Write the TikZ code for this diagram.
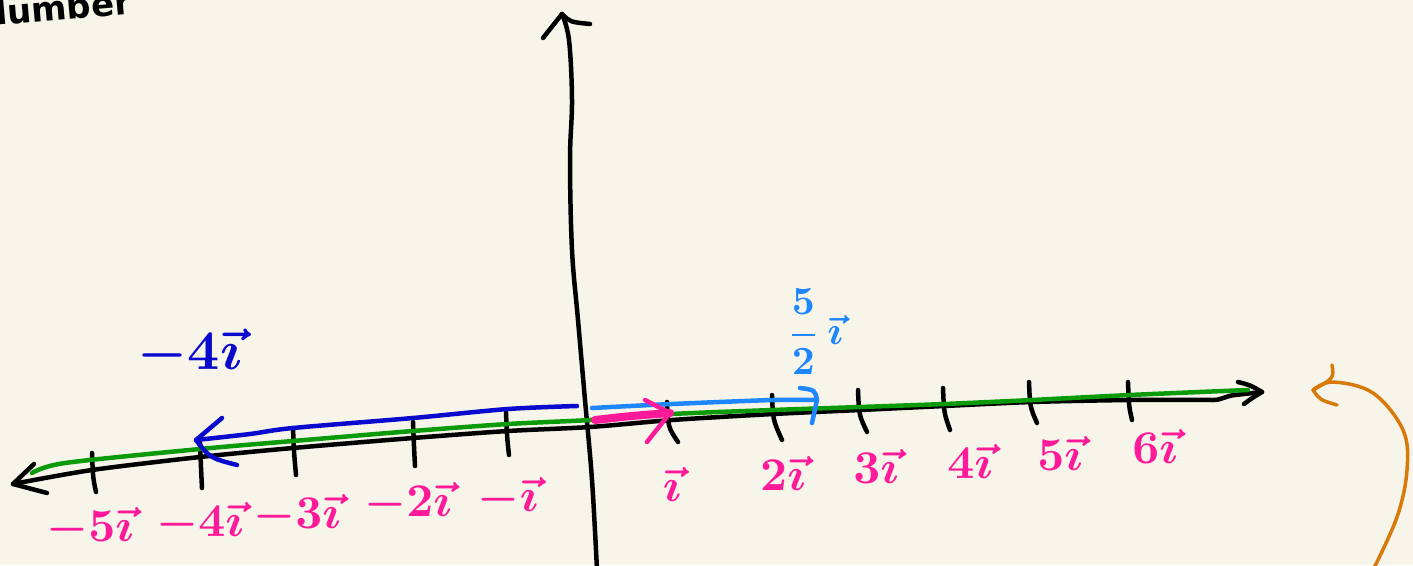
\documentclass[tikz,border=0pt]{standalone}
\usepackage{amsmath}
\usepackage{fontspec}
\newfontfamily\handfont{DejaVu Sans}
\definecolor{bgc}{HTML}{F7F5E9}
\definecolor{pinkc}{HTML}{FF1A9A}
\definecolor{lbluec}{HTML}{1E86FF}
\definecolor{dbluec}{HTML}{0A0ACF}
\definecolor{greenc}{HTML}{0A9A0A}
\definecolor{orangec}{HTML}{D87A0A}
\tikzset{
  pen/.style={line width=4.5pt, line cap=round, line join=round},
  axis/.style={pen, black},
  tickmark/.style={pen, black},
  plabel/.style={text=pinkc, scale=4.7, inner sep=0pt, font=\boldmath},
}
\begin{document}
\begin{tikzpicture}[x=1pt,y=-1pt]
\fill[bgc] (0,0) rectangle (1413,565);
\useasboundingbox (0,0) rectangle (1413,565);
\clip (0,0) rectangle (1413,565);

% cut-off title
\node[anchor=base west, inner sep=0pt, font=\handfont\bfseries\fontsize{34}{40}\selectfont, rotate=5] (title) at (-20,27) {Number};

% vertical axis
\coordinate (vtop) at (562,14);
\coordinate (vbot) at (597,570);
\draw[axis] plot[smooth, tension=0.6] coordinates {(vtop) (569,40) (572,100) (570,160) (572,250) (578,320) (585,400) (592,480) (vbot)};
\draw[axis] (543,38) -- (vtop) .. controls (570,22) .. (590,24);

% horizontal axis
\coordinate (hl) at (13,484);
\coordinate (hr) at (1262,392);
\draw[axis] plot[smooth, tension=0.5] coordinates {(hl) (92,470) (200,457) (293,448) (413,438) (508,431) (590,427) (672,420) (773,414) (860,410) (944,406) (1032,402) (1130,400) (1213,400)} .. controls (1222,400) and (1225,396) .. (1235,395) -- (hr);
\draw[axis] (34,464) -- (hl) -- (47,493);
\draw[axis] (1238,382) .. controls (1250,385) .. (hr) .. controls (1252,398) .. (1244,404);

% ticks
\foreach \x/\a/\b/\c in {92/453/96/492, 200/443/202/488, 293/428/296/475, 413/422/415/466, 506/412/509/455, 667/402/678/442, 772/395/782/440, 858/390/867/432, 943/388/950/430, 1029/382/1037/423, 1128/382/1132/420}
  \draw[tickmark] (\x,\a) .. controls (\x+1,\a+25) .. (\b,\c);

% green line
\coordinate (gl) at (32,473);
\coordinate (gr) at (1248,390);
\draw[pen, greenc] plot[smooth, tension=0.5] coordinates {(gl) (65,463) (200,449) (293,441) (413,431) (508,424) (590,420) (672,414) (773,410) (860,407) (944,404) (1032,400) (1130,395) (gr)};

% dark blue vector -4i
\coordinate (db0) at (577,406);
\coordinate (db1) at (196,440);
\draw[pen, dbluec] plot[smooth, tension=0.5] coordinates {(db0) (508,409) (413,418) (293,428) (250,434) (db1)};
\draw[pen, dbluec] (222,418) -- (db1) .. controls (210,458) .. (237,465);
\node[text=dbluec, scale=5.6, inner sep=0pt, font=\boldmath] (dlab) at (190,353) {$-4\vec{\imath}$};

% light blue vector 5/2 i
\coordinate (lb0) at (592,408);
\coordinate (lb1) at (817,400);
\draw[pen, lbluec] plot[smooth, tension=0.5] coordinates {(lb0) (672,404) (773,400) (lb1)};
\draw[pen, lbluec] (800,388) .. controls (815,390) .. (lb1) -- (812,423);
\node[text=lbluec, scale=4.0, inner sep=0pt, font=\boldmath] (llab) at (815,332) {$\dfrac{5}{2}\,\vec{\imath}$};

% magenta unit vector
\coordinate (m0) at (595,420);
\coordinate (m1) at (670,413);
\draw[line width=8pt, line cap=round, pinkc] (m0) .. controls (630,416) .. (m1);
\draw[pen, pinkc] (645,400) -- (m1) -- (647,442);

% magenta labels
\node[plabel] (l-5) at (90,528) {$-5\vec{\imath}$};
\node[plabel] (l-4) at (200,523) {$-4\vec{\imath}$};
\node[plabel] (l-3) at (297,515) {$-3\vec{\imath}$};
\node[plabel] (l-2) at (408,503) {$-2\vec{\imath}$};
\node[plabel] (l-1) at (508,498) {$-\vec{\imath}$};
\node[plabel] (l1) at (672,484) {$\vec{\imath}$};
\node[plabel] (l2) at (783,473) {$2\vec{\imath}$};
\node[plabel] (l3) at (876,466) {$3\vec{\imath}$};
\node[plabel] (l4) at (970,461) {$4\vec{\imath}$};
\node[plabel] (l5) at (1060,453) {$5\vec{\imath}$};
\node[plabel] (l6) at (1155,446) {$6\vec{\imath}$};

% orange curved arrow
\coordinate (ot) at (1313,390);
\coordinate (ob) at (1373,570);
\draw[line width=3.5pt, line cap=round, line join=round, orangec] plot[smooth, tension=0.6] coordinates {(ot) (1333,382) (1373,393) (1403,430) (1407,470) (1397,517) (ob)};
\draw[line width=3.5pt, line cap=round, line join=round, orangec] (1332,365) .. controls (1334,378) .. (ot) .. controls (1320,400) .. (1337,405);
\end{tikzpicture}
\end{document}
